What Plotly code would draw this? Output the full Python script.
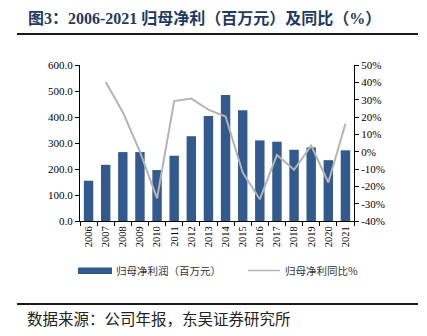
import plotly.graph_objects as go

years = [str(y) for y in range(2006, 2022)]
profit = [155, 216, 265, 265, 196, 251, 326, 404, 485, 426, 310, 305, 274, 283, 234, 272]
yoy = [None, 40.2, 22.8, 0.0, -26.9, 29.2, 30.6, 24.2, 20.3, -12.0, -27.5, -1.9, -10.5, 3.5, -17.8, 16.1]
pct_ticks = [-40, -30, -20, -10, 0, 10, 20, 30, 40, 50]
pct_labels = ["-40%", "-30%", "-20%", "-10%", "0%", "10%", "20%", "30%", "40%", "50%"]

title_text = "图3：2006-2021 归母净利（百万元）及同比（%）"
bar_name = "归母净利润（百万元）"
line_name = "归母净利同比%"
source_text = "数据来源：公司年报，东吴证券研究所"

W_FIG, H_FIG = 427, 336
L, R, T, B = 80, 73, 65, 115
PW = W_FIG - L - R
PH = H_FIG - T - B

def px(x):
    return (x - L) / PW

def py(y):
    return (H_FIG - B - y) / PH

BAR_COLOR = "#335A8E"
LINE_COLOR = "#B4B4B4"
SERIF = "Liberation Serif, Noto Sans CJK SC, serif"
CJK = "Noto Sans CJK SC, sans-serif"

fig = go.Figure()
fig.add_trace(go.Bar(x=years, y=profit, name=bar_name, marker=dict(color=BAR_COLOR, line=dict(width=0)),
                     yaxis="y", showlegend=False))
fig.add_trace(go.Scatter(x=years, y=yoy, name=line_name, mode="lines",
                         line=dict(color=LINE_COLOR, width=2), yaxis="y2", showlegend=False))

shapes = [
    dict(type="line", xref="paper", yref="paper", x0=px(17), x1=px(418), y0=py(34), y1=py(34),
         line=dict(color="#1a1a1a", width=2)),
    dict(type="line", xref="paper", yref="paper", x0=px(17), x1=px(418), y0=py(304), y1=py(304),
         line=dict(color="#1a1a1a", width=2)),
    dict(type="rect", xref="paper", yref="paper", x0=px(78), x1=px(112), y0=py(274), y1=py(267.5),
         fillcolor=BAR_COLOR, line=dict(width=0)),
    dict(type="line", xref="paper", yref="paper", x0=px(248), x1=px(280), y0=py(270.5), y1=py(270.5),
         line=dict(color=LINE_COLOR, width=1.5)),
]

annotations = [
    dict(text="<b>" + title_text + "</b>", xref="paper", yref="paper", x=px(26), y=py(18),
         xanchor="left", yanchor="middle", showarrow=False,
         font=dict(family=SERIF, size=16, color="#1F3A5F")),
    dict(text=bar_name, xref="paper", yref="paper", x=px(114), y=py(270.5),
         xanchor="left", yanchor="middle", showarrow=False,
         font=dict(family=CJK, size=10.5, color="#333333")),
    dict(text=line_name, xref="paper", yref="paper", x=px(283), y=py(270.5),
         xanchor="left", yanchor="middle", showarrow=False,
         font=dict(family=CJK, size=10.5, color="#333333")),
    dict(text=source_text, xref="paper", yref="paper", x=px(25), y=py(318),
         xanchor="left", yanchor="middle", showarrow=False,
         font=dict(family=CJK, size=15.5, color="#222222")),
]

fig.update_layout(
    width=W_FIG, height=H_FIG,
    margin=dict(l=L, r=R, t=T, b=B),
    paper_bgcolor="white", plot_bgcolor="white",
    bargap=0.45,
    showlegend=False,
    shapes=shapes,
    annotations=annotations,
    xaxis=dict(type="category", tickson="boundaries", ticks="outside", ticklen=4, tickcolor="black",
               tickangle=-90, showline=True, linecolor="black", linewidth=1, showgrid=False,
               tickfont=dict(family=SERIF, size=10.5, color="black")),
    yaxis=dict(range=[0, 600], dtick=100, tickformat=".1f", showline=True, linecolor="black",
               linewidth=1, ticks="outside", ticklen=4, tickcolor="black", showgrid=False, zeroline=False,
               tickfont=dict(family=SERIF, size=11, color="black")),
    yaxis2=dict(range=[-40, 50], tickmode="array", tickvals=pct_ticks, ticktext=pct_labels,
                overlaying="y", side="right",
                showline=True, linecolor="black", linewidth=1, ticks="outside", ticklen=4,
                tickcolor="black", showgrid=False, zeroline=False,
                tickfont=dict(family=SERIF, size=11, color="black")),
)

fig.write_html("out.html")
